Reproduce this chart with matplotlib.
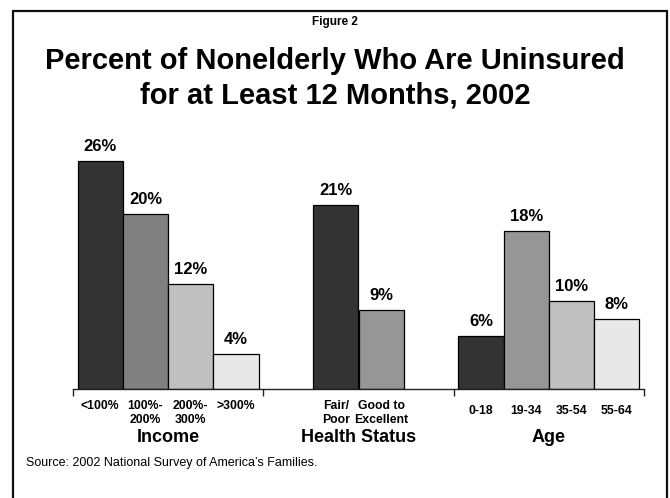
import matplotlib.pyplot as plt
from matplotlib.patches import Rectangle

plt.rcParams['font.family'] = ['Liberation Sans', 'DejaVu Sans']

groups = ["Income", "Health Status", "Age"]
income_labels = ["<100%", "100%-\n200%", "200%-\n300%", ">300%"]
income_values = [26, 20, 12, 4]
health_labels = ["Fair/\nPoor", "Good to\nExcellent"]
health_values = [21, 9]
age_labels = ["0-18", "19-34", "35-54", "55-64"]
age_values = [6, 18, 10, 8]

income_colors = ["#333333", "#808080", "#c0c0c0", "#e8e8e8"]
health_colors = ["#333333", "#969696"]
age_colors = ["#333333", "#969696", "#c0c0c0", "#e8e8e8"]

fig = plt.figure(figsize=(6.7, 4.98), dpi=100)
ax = fig.add_axes([73 / 670, 1 - 389 / 498, 571 / 670, 263 / 498])

width = 0.238
series = [
    (income_labels, income_values, income_colors, "top"),
    (health_labels, health_values, health_colors, "top"),
    (age_labels, age_values, age_colors, "center"),
]
for g, (labels, values, colors, va) in enumerate(series):
    n = len(values)
    xs = [g + 0.5 + (i - (n - 1) / 2) * width for i in range(n)]
    ax.bar(xs, values, width=width, color=colors, edgecolor="black", linewidth=0.9)
    for x, v, lab in zip(xs, values, labels):
        ax.annotate("%d%%" % v, (x, v), xytext=(0, 5), textcoords="offset points",
                    ha="center", va="bottom", fontsize=12, fontweight="bold")
        ypos = -0.040 if va == "top" else -0.084
        ax.text(x, ypos, lab, transform=ax.get_xaxis_transform(), ha="center", va=va,
                fontsize=8.8, fontweight="bold", linespacing=1.3)
    ax.text(g + 0.5, -0.186, groups[g], transform=ax.get_xaxis_transform(),
            ha="center", va="center", fontsize=13, fontweight="bold")

ax.set_xlim(0, 3)
ax.set_ylim(0, 30)
ax.set_xticks([0, 1, 2, 3])
ax.set_xticklabels([])
ax.tick_params(axis="x", length=5, width=1, color="#222222", direction="out")
ax.set_yticks([])
for s in ["top", "right", "left"]:
    ax.spines[s].set_visible(False)
ax.spines["bottom"].set_color("#222222")
ax.spines["bottom"].set_linewidth(1)

# outer frame
fig.patches.append(Rectangle((13 / 670, -0.1), 654 / 670, 1.1 - 11 / 498, transform=fig.transFigure,
                             fill=False, edgecolor="#111111", linewidth=1.6, clip_on=False))

fig.text(0.5, 1 - 22 / 498, "Figure 2", ha="center", va="center", fontsize=8.5, fontweight="bold")
fig.text(0.5, 1 - 78 / 498, "Percent of Nonelderly Who Are Uninsured\nfor at Least 12 Months, 2002",
         ha="center", va="center", fontsize=21, fontweight="bold", linespacing=1.3)
fig.text(26 / 670, 1 - 463 / 498, "Source: 2002 National Survey of America\u2019s Families.",
         ha="left", va="center", fontsize=9)

fig.savefig("out.png", dpi=100)
